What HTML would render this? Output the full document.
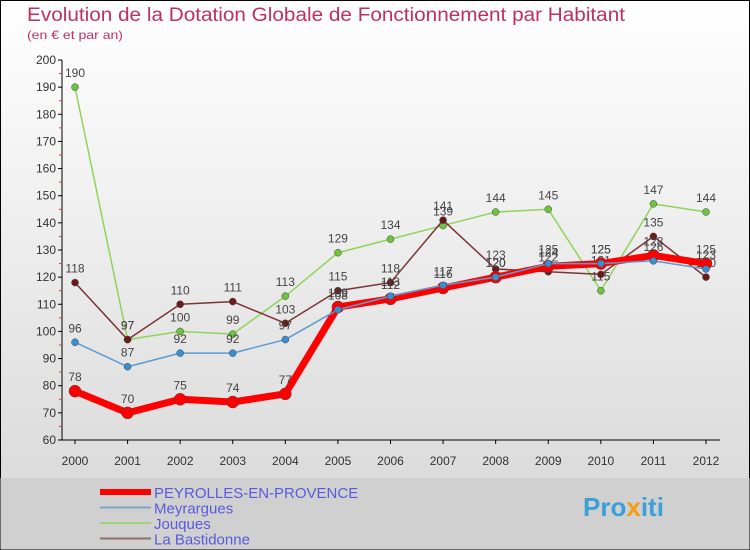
<!DOCTYPE html>
<html><head><meta charset="utf-8"><style>
body{margin:0}
#c{position:relative;width:750px;height:550px;font-family:"Liberation Sans",sans-serif;overflow:hidden}
svg text{font-family:"Liberation Sans",sans-serif}
</style></head><body>
<div id="c">
<svg id="s" width="750" height="550" viewBox="0 0 750 550">
<defs><linearGradient id="bg" x1="0" y1="0" x2="0" y2="1"><stop offset="0" stop-color="#ffffff"/><stop offset="1" stop-color="#d6d6d6"/></linearGradient></defs>
<rect x="0.5" y="0.5" width="749" height="549" fill="url(#bg)" stroke="#000"/>
<text x="27" y="21" font-size="19" fill="#c0305e" textLength="598" lengthAdjust="spacingAndGlyphs">Evolution de la Dotation Globale de Fonctionnement par Habitant</text>
<text x="27" y="39" font-size="12" fill="#c0305e" textLength="96" lengthAdjust="spacingAndGlyphs">(en € et par an)</text>
<g id="axes"></g><g id="series"></g><g id="legend"></g>
<text x="583" y="516" font-size="26" font-weight="bold" fill="#3aa0d8">Pro<tspan fill="#f39c12">x</tspan>iti</text>
</svg></div>
<script>
const years=[2000,2001,2002,2003,2004,2005,2006,2007,2008,2009,2010,2011,2012];
const yTicks=[60,70,80,90,100,110,120,130,140,150,160,170,180,190,200];
const peyrolles=[78,70,75,74,77,109,112,116,120,124,125,128,125];
const meyrargues=[96,87,92,92,97,108,113,117,120,125,125,126,123];
const jouques=[190,97,100,99,113,129,134,139,144,145,115,147,144];
const bastidonne=[118,97,110,111,103,115,118,141,123,122,121,135,120];
const NS="http://www.w3.org/2000/svg";
const X=i=>75+i*(706-75)/12;
const Y=v=>440-(v-60)*380/140;
function mk(t,a,p){const e=document.createElementNS(NS,t);for(const k in a)e.setAttribute(k,a[k]);p.appendChild(e);return e;}
const ax=document.getElementById('axes');
let e=mk('line',{x1:62,y1:Y(200),x2:62,y2:440,stroke:'#000'},ax);


e=mk('line',{x1:62,y1:440,x2:720,y2:440,stroke:'#000'},ax);


yTicks.forEach(v=>{
 mk('line',{x1:58,y1:Y(v),x2:62,y2:Y(v),stroke:'#000'},ax);
 if(v<200) mk('line',{x1:59,y1:Y(v+5),x2:62,y2:Y(v+5),stroke:'#e33'},ax);
 const t=mk('text',{x:56,y:Y(v)+4,'font-size':12,'text-anchor':'end',fill:'#333'},ax);t.textContent=v;
 
 
});
years.forEach((y,i)=>{
 mk('line',{x1:X(i),y1:440,x2:X(i),y2:444,stroke:'#000'},ax);
 const t=mk('text',{x:X(i),y:465,'font-size':12,'text-anchor':'middle',fill:'#333'},ax);t.textContent=y;
 
 
});
const sg=document.getElementById('series');
const defs=[
 {d:jouques,c:'#8fd45a',dot:'#6cc53a',w:1.5,r:3.5,n:'jouques'},
 {d:bastidonne,c:'#7a3535',dot:'#6b1a1a',w:1.5,r:3.5,n:'la-bastidonne'},
 {d:peyrolles,c:'#ff0000',dot:'#ff0000',w:7,r:6,n:'peyrolles'},
 {d:meyrargues,c:'#5b9bd0',dot:'#3b8ed0',w:1.5,r:3.5,n:'meyrargues'}];
defs.forEach(s=>{
 const p=mk('polyline',{points:s.d.map((v,i)=>X(i)+','+Y(v)).join(' '),fill:'none',stroke:s.c,'stroke-width':s.w,'stroke-linejoin':'round'},sg);
 
 
 s.d.forEach((v,i)=>{
  const c=mk('circle',{cx:X(i),cy:Y(v),r:s.r,fill:s.dot,stroke:'#444','stroke-width':0.5},sg);
  
  
  const t=mk('text',{x:X(i),y:Y(v)-10,'font-size':12,'text-anchor':'middle',fill:'#444'},sg);t.textContent=v;
  
  
 });
});
const lg=document.getElementById('legend');
mk('rect',{x:0.5,y:478,width:749,height:71.5,fill:'#d0d0d0'},lg);
const L=[['PEYROLLES-EN-PROVENCE','#ff0000',6],['Meyrargues','#7aa8c8',2],['Jouques','#9ed27f',2],['La Bastidonne','#957070',2]];
L.forEach((l,i)=>{
 const y=492+i*15.5;
 const ln=mk('line',{x1:100,y1:y,x2:151,y2:y,stroke:l[1],'stroke-width':l[2]},lg);
 
 
 const t=mk('text',{x:154,y:y+6,'font-size':15,fill:'#5a5adc'},lg);t.textContent=l[0];
 
 
});
</script>
</body></html>
